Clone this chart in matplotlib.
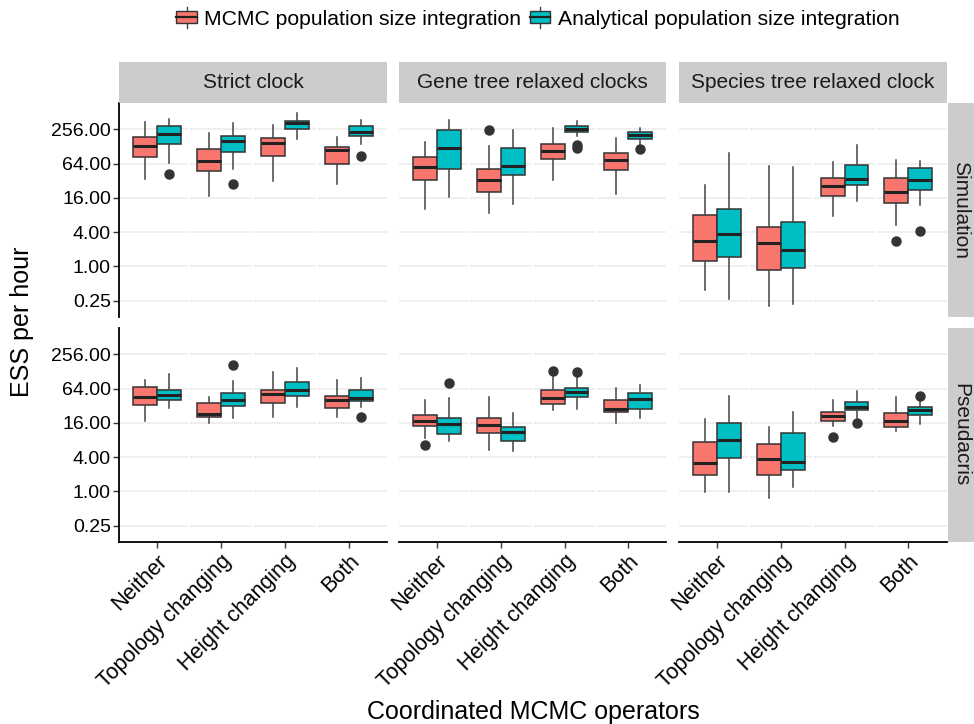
import matplotlib
matplotlib.use("Agg")
import matplotlib.pyplot as plt
from matplotlib.patches import Rectangle
from matplotlib.lines import Line2D
from matplotlib.legend_handler import HandlerBase
import numpy as np

plt.rcParams['font.family'] = ['Liberation Sans', 'DejaVu Sans']

# ---------------- data (log2 of ESS per hour): [whislo, q1, median, q3, whishi] ----
categories = ["Neither", "Topology changing", "Height changing", "Both"]
clock_models = ["Strict clock", "Gene tree relaxed clocks", "Species tree relaxed clock"]
datasets = ["Simulation", "Pseudacris"]
methods = ["MCMC population size integration", "Analytical population size integration"]

sim_strict_mcmc = [[5.11, 6.39, 7.03, 7.52, 8.43], [4.12, 5.54, 6.12, 6.82, 7.77],
                   [4.96, 6.45, 7.19, 7.46, 8.27], [4.78, 5.97, 6.78, 6.97, 7.53]]
sim_strict_mcmc_out = [[], [], [], []]
sim_strict_anal = [[6.04, 7.15, 7.73, 8.21, 8.62], [5.69, 6.70, 7.32, 7.61, 8.39],
                   [7.42, 8.00, 8.35, 8.48, 8.95], [7.11, 7.59, 7.83, 8.21, 8.56]]
sim_strict_anal_out = [[5.38], [4.78], [], [6.43]]

sim_gene_mcmc = [[3.35, 5.03, 5.81, 6.39, 7.24], [3.14, 4.36, 5.03, 5.66, 7.05],
                 [5.03, 6.28, 6.74, 7.15, 8.06], [4.20, 5.60, 6.20, 6.64, 7.46]]
sim_gene_mcmc_out = [[], [7.98], [], []]
sim_gene_anal = [[4.07, 5.66, 6.90, 7.94, 8.52], [3.62, 5.36, 5.87, 6.88, 7.98],
                 [7.61, 7.86, 8.02, 8.19, 8.47], [7.07, 7.44, 7.67, 7.81, 8.06]]
sim_gene_anal_out = [[], [], [7.10, 6.90], [6.84]]

sim_species_mcmc = [[-1.40, 0.31, 1.49, 3.02, 4.72], [-2.33, -0.22, 1.37, 2.28, 5.85],
                    [2.96, 4.12, 4.71, 5.13, 6.08], [2.44, 3.72, 4.34, 5.13, 6.18]]
sim_species_mcmc_out = [[], [], [], [1.51]]
sim_species_anal = [[-1.88, 0.52, 1.90, 3.35, 6.59], [-2.17, -0.08, 0.95, 2.57, 5.77],
                    [3.79, 4.74, 5.11, 5.91, 7.07], [3.61, 4.46, 5.02, 5.75, 6.12]]
sim_species_anal_out = [[], [], [], [2.04]]

pse_strict_mcmc = [[4.12, 5.05, 5.50, 6.10, 6.49], [4.01, 4.36, 4.53, 5.17, 5.52],
                   [4.36, 5.17, 5.69, 5.89, 6.97], [4.36, 4.84, 5.36, 5.54, 6.51]]
pse_strict_mcmc_out = [[], [], [], []]
pse_strict_anal = [[4.84, 5.31, 5.64, 5.93, 6.82], [4.26, 4.96, 5.34, 5.73, 6.45],
                   [4.92, 5.54, 5.93, 6.39, 7.19], [4.90, 5.29, 5.46, 5.89, 6.59]]
pse_strict_anal_out = [[], [7.38], [], [4.36]]

pse_gene_mcmc = [[3.10, 3.79, 4.10, 4.47, 5.34], [2.42, 3.43, 3.87, 4.26, 5.48],
                 [4.72, 5.11, 5.42, 5.89, 6.70], [3.97, 4.65, 4.80, 5.33, 6.06]]
pse_gene_mcmc_out = [[2.73], [], [7.03], []]
pse_gene_anal = [[2.94, 3.35, 3.95, 4.30, 5.46], [2.36, 2.96, 3.45, 3.74, 4.55],
                 [4.82, 5.48, 5.79, 6.04, 6.62], [4.30, 4.78, 5.40, 5.73, 6.20]]
pse_gene_anal_out = [[6.35], [], [6.97], []]

pse_species_mcmc = [[-0.06, 0.95, 1.66, 2.86, 4.22], [-0.39, 0.97, 1.88, 2.77, 3.74],
                    [3.83, 4.10, 4.41, 4.65, 5.34], [3.52, 3.78, 4.10, 4.57, 5.48]]
pse_species_mcmc_out = [[], [], [3.19], []]
pse_species_anal = [[-0.06, 1.95, 3.02, 4.01, 5.58], [0.23, 1.22, 1.74, 3.43, 4.63],
                    [4.30, 4.74, 4.94, 5.19, 5.85], [3.91, 4.43, 4.76, 4.90, 5.23]]
pse_species_anal_out = [[], [], [4.01], [5.58]]

y_ticks = [0.25, 1.0, 4.0, 16.0, 64.0, 256.0]

panels = {
    (0, 0): [(sim_strict_mcmc, sim_strict_mcmc_out), (sim_strict_anal, sim_strict_anal_out)],
    (0, 1): [(sim_gene_mcmc, sim_gene_mcmc_out), (sim_gene_anal, sim_gene_anal_out)],
    (0, 2): [(sim_species_mcmc, sim_species_mcmc_out), (sim_species_anal, sim_species_anal_out)],
    (1, 0): [(pse_strict_mcmc, pse_strict_mcmc_out), (pse_strict_anal, pse_strict_anal_out)],
    (1, 1): [(pse_gene_mcmc, pse_gene_mcmc_out), (pse_gene_anal, pse_gene_anal_out)],
    (1, 2): [(pse_species_mcmc, pse_species_mcmc_out), (pse_species_anal, pse_species_anal_out)],
}

colors = ["#F8766D", "#00BFC4"]
edge = "#333333"

# ---------------- layout ----------------
W, H = 974, 724
fig = plt.figure(figsize=(W / 100, H / 100), dpi=100)

def rect(x0, y0, x1, y1):
    return [x0 / W, 1 - y1 / H, (x1 - x0) / W, (y1 - y0) / H]

col_x = [(119, 387), (399, 666.5), (679, 946.5)]
row_y = [(103, 317), (328, 542)]

tick_fs = 14
xtick_fs = 15.5
strip_fs = 15

def stats_for(vals, outs):
    s = []
    for v, o in zip(vals, outs):
        s.append(dict(whislo=2 ** v[0], q1=2 ** v[1], med=2 ** v[2], q3=2 ** v[3],
                      whishi=2 ** v[4], fliers=[2 ** x for x in o]))
    return s

axes = {}
for r in range(2):
    for c in range(3):
        x0, x1 = col_x[c]
        y0, y1 = row_y[r]
        ax = fig.add_axes(rect(x0, y0, x1, y1))
        axes[(r, c)] = ax
        ax.set_yscale('log', base=2)
        ax.set_ylim(2 ** -2.95, 2 ** 9.53)
        ax.set_xlim(0.4, 4.6)
        # gridlines
        for t in y_ticks:
            ax.axhline(t, color="#EBEBEB", lw=1.1, zorder=0)
        for xv in [1.5, 2.5, 3.5]:
            ax.axvline(xv, color="white", lw=1.6, zorder=0.5)
        base = np.arange(1, len(categories) + 1)
        for k, (vals, outs) in enumerate(panels[(r, c)]):
            pos = base + (k - 0.5) * 0.375
            st = stats_for(vals, outs)
            ax.bxp(st, positions=pos, widths=0.375, patch_artist=True, showcaps=False,
                   boxprops=dict(facecolor=colors[k], edgecolor=edge, lw=1.1),
                   whiskerprops=dict(color="#444444", lw=1.1),
                   medianprops=dict(color="#222222", lw=2.2, solid_capstyle='butt'),
                   flierprops=dict(marker='o', markerfacecolor="#333333",
                                   markeredgecolor="#333333", markersize=6.5),
                   manage_ticks=False)
        for sp in ax.spines.values():
            sp.set_visible(False)
        ax.set_xticks(base)
        ax.minorticks_off()
        ax.set_yticks(y_ticks)
        ax.tick_params(axis='y', length=4.3, width=1, color="#333333",
                       labelsize=tick_fs, labelcolor="#000000", pad=1.5)
        ax.tick_params(axis='x', length=4, width=1, color="#333333",
                       labelsize=xtick_fs, labelcolor="#000000", pad=2)
        if c == 0:
            ax.spines['left'].set_visible(True)
            ax.spines['left'].set_linewidth(1.3)
            ax.spines['left'].set_color("black")
            ax.set_yticklabels(["%.2f" % t for t in y_ticks])
        else:
            ax.tick_params(axis='y', left=False, labelleft=False)
        if r == 1:
            ax.spines['bottom'].set_visible(True)
            ax.spines['bottom'].set_linewidth(1.3)
            ax.spines['bottom'].set_color("black")
            ax.set_xticklabels(categories, rotation=45, ha='right',
                               rotation_mode='anchor')
        else:
            ax.tick_params(axis='x', bottom=False, labelbottom=False)
        ax.set_facecolor("white")

# strips
for c in range(3):
    x0, x1 = col_x[c]
    sax = fig.add_axes(rect(x0, 62, x1, 102.5))
    sax.set_facecolor("#CCCCCC")
    sax.set_xticks([]); sax.set_yticks([])
    for sp in sax.spines.values():
        sp.set_visible(False)
    sax.text(0.5, 0.5, clock_models[c], ha='center', va='center', fontsize=strip_fs,
             color="#1A1A1A", transform=sax.transAxes)
for r in range(2):
    y0, y1 = row_y[r]
    sax = fig.add_axes(rect(947.5, y0, 974, y1))
    sax.set_facecolor("#CCCCCC")
    sax.set_xticks([]); sax.set_yticks([])
    for sp in sax.spines.values():
        sp.set_visible(False)
    sax.text(0.5, 0.5, datasets[r], ha='center', va='center', fontsize=strip_fs,
             rotation=-90, color="#1A1A1A", transform=sax.transAxes)

# axis titles
fig.text(533 / W, 1 - 712 / H, "Coordinated MCMC operators", ha='center', va='center',
         fontsize=18)
fig.text(22 / W, 1 - 322 / H, "ESS per hour", ha='center', va='center',
         fontsize=18, rotation=90)

# legend
class BoxHandler(HandlerBase):
    def create_artists(self, legend, orig_handle, xdescent, ydescent, width, height,
                       fontsize, trans):
        fc = orig_handle.get_facecolor()
        bw = width * 0.95
        bx = -xdescent + (width - bw) / 2
        bh = height * 0.75
        by = -ydescent + (height - bh) / 2
        cx = bx + bw / 2
        wl = Line2D([cx, cx], [-ydescent - height * 0.15, -ydescent + height * 1.15],
                    color="#444444", lw=1.0, transform=trans)
        box = Rectangle((bx, by), bw, bh, facecolor=fc, edgecolor=edge, lw=1.0,
                        transform=trans)
        med = Line2D([bx, bx + bw], [by + bh / 2, by + bh / 2], color="#222222",
                     lw=1.6, transform=trans)
        return [wl, box, med]

handles = [Rectangle((0, 0), 1, 1, facecolor=colors[k]) for k in range(2)]
fig.legend(handles, methods, handler_map={Rectangle: BoxHandler()},
           loc='center', bbox_to_anchor=(538 / W, 1 - 19 / H), ncol=2, frameon=False,
           fontsize=15.2, handlelength=1.0, handleheight=0.8, handletextpad=0.35,
           columnspacing=0.4, borderaxespad=0)

fig.savefig("out.png", dpi=100, facecolor="white")
